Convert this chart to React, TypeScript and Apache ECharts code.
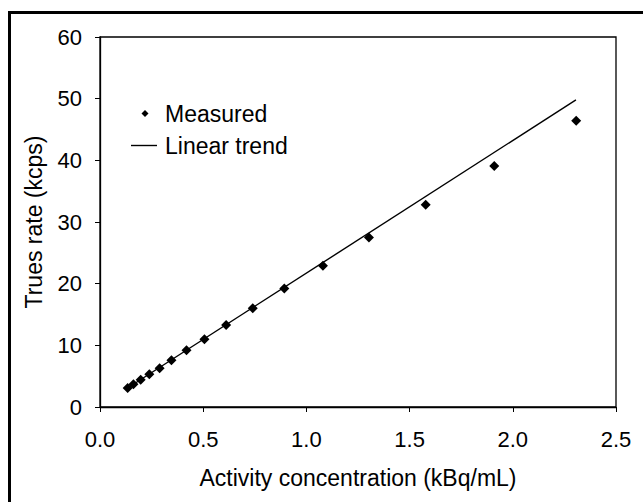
import React, { useEffect, useRef } from "react";
import * as echarts from "echarts";

const measuredX = [0.134, 0.162, 0.197, 0.239, 0.289, 0.346, 0.419, 0.506, 0.611, 0.74, 0.893, 1.08, 1.303, 1.578, 1.91, 2.307];
const measuredY = [3.1, 3.7, 4.4, 5.3, 6.3, 7.6, 9.2, 11.0, 13.3, 16.0, 19.2, 22.9, 27.5, 32.8, 39.1, 46.4];
const trendX = [0.13, 2.306];
const trendY = [3.0, 49.8];
const xTicks = [0, 0.5, 1.0, 1.5, 2.0, 2.5];
const yTicks = [0, 10, 20, 30, 40, 50, 60];
const xTitle = "Activity concentration (kBq/mL)";
const yTitle = "Trues rate (kcps)";
const seriesNames = ["Measured", "Linear trend"];

const FONT = "'Liberation Sans', Arial, Helvetica, sans-serif";

export default function App() {
  const ref = useRef<HTMLDivElement>(null);
  useEffect(() => {
    document.body.style.margin = "0";
    const chart = echarts.init(ref.current!, undefined, { renderer: "svg" });
    const axisCommon = {
      axisLine: { show: true, lineStyle: { color: "#000", width: 1.3 } },
      axisTick: { show: true, inside: false, length: 5, lineStyle: { color: "#000", width: 1 } },
      splitLine: { show: false },
    };
    const legendText = { fontSize: 23, color: "#000", fontFamily: FONT };
    chart.setOption({
      animation: false,
      backgroundColor: "#fff",
      textStyle: { fontFamily: FONT, color: "#000" },
      grid: { left: 100, top: 37, right: 27, bottom: 95, show: true, borderColor: "#000", borderWidth: 1.3, backgroundColor: "transparent" },
      xAxis: {
        type: "value",
        min: xTicks[0],
        max: xTicks[xTicks.length - 1],
        interval: 0.5,
        ...axisCommon,
        axisLabel: { fontSize: 22, color: "#000", fontFamily: FONT, margin: 21, formatter: (v: number) => v.toFixed(1) },
        name: xTitle,
        nameLocation: "middle",
        nameGap: 59,
        nameTextStyle: { fontSize: 23, color: "#000", fontFamily: FONT },
      },
      yAxis: {
        type: "value",
        min: yTicks[0],
        max: yTicks[yTicks.length - 1],
        interval: 10,
        ...axisCommon,
        axisLabel: { fontSize: 22, color: "#000", fontFamily: FONT, margin: 18 },
        name: yTitle,
        nameLocation: "middle",
        nameGap: 55,
        nameRotate: 90,
        nameTextStyle: { fontSize: 23, color: "#000", fontFamily: FONT },
      },
      legend: [
        {
          orient: "vertical",
          left: 136.5,
          top: 97,
          itemWidth: 7,
          itemHeight: 7,
          textStyle: { ...legendText, padding: [0, 0, 0, 11.5] },
          data: [{ name: seriesNames[0], icon: "diamond" }],
        },
        {
          orient: "vertical",
          left: 126,
          top: 129,
          itemWidth: 26,
          itemHeight: 1.4,
          textStyle: { ...legendText, padding: [0, 0, 0, 3] },
          data: [{ name: seriesNames[1], icon: "rect" }],
        },
      ],
      graphic: [
        {
          type: "rect",
          shape: { x: 9.5, y: 12.5, width: 700, height: 600 },
          style: { fill: "none", stroke: "#000", lineWidth: 3 },
          silent: true,
        },
      ],
      series: [
        {
          name: seriesNames[0],
          type: "scatter",
          symbol: "diamond",
          symbolSize: 10,
          itemStyle: { color: "#000", opacity: 1 },
          data: measuredX.map((x, i) => [x, measuredY[i]]),
          z: 3,
        },
        {
          name: seriesNames[1],
          type: "line",
          symbol: "none",
          showSymbol: false,
          lineStyle: { color: "#000", width: 1.4 },
          itemStyle: { color: "#000" },
          data: trendX.map((x, i) => [x, trendY[i]]),
          z: 2,
        },
      ],
    });
    return () => chart.dispose();
  }, []);
  return <div ref={ref} style={{ width: 643, height: 502 }} />;
}
